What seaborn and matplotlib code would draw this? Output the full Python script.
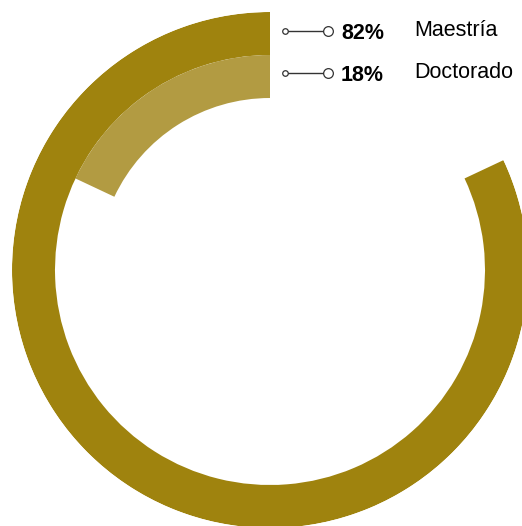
import numpy as np
import pandas as pd
import matplotlib
matplotlib.use("Agg")
import matplotlib.pyplot as plt
import seaborn as sns
from matplotlib.lines import Line2D

# data
niveles = ['Maestría', 'Doctorado']
porcentajes = [82, 18]
colores = ['#9F830E', '#B29B42']

sns.set_theme(style="white")
plt.rcParams['font.family'] = ['Liberation Sans', 'DejaVu Sans']

df = pd.DataFrame({'nivel': niveles, 'pct': porcentajes, 'color': colores})

W, H = 522, 526
fig = plt.figure(figsize=(W / 100, H / 100), dpi=100)
fig.patch.set_facecolor('white')

# ring geometry in pixels
cx, cy, R = 270, 270, 258
ax = fig.add_axes([(cx - R) / W, (H - cy - R) / H, 2 * R / W, 2 * R / H], projection='polar')
ax.set_theta_zero_location('N')
ax.set_theta_direction(1)
ax.set_ylim(0, R)

grosor = 43
for i, row in df.iterrows():
    r_out = R - i * grosor
    ax.barh(r_out - grosor / 2, np.deg2rad(row.pct * 3.6), left=0, height=grosor,
            color=row.color, edgecolor='none')

ax.set_axis_off()

# legend at top right
for i, row in df.iterrows():
    y = 1 - (31 + i * 42) / H
    fig.add_artist(Line2D([285 / W, 328 / W], [y, y], color='#333333', lw=1.0,
                          transform=fig.transFigure))
    fig.add_artist(Line2D([285 / W], [y], marker='o', ms=4, mfc='white', mec='#333333',
                          mew=0.9, transform=fig.transFigure))
    fig.add_artist(Line2D([328 / W], [y], marker='o', ms=7, mfc='white', mec='#333333',
                          mew=0.9, transform=fig.transFigure))
    fig.text(341 / W, y - 8 / H, f"{row.pct}%", fontsize=15.5, fontweight='bold',
             color='black', va='baseline', ha='left')
    fig.text(414 / W, y - 5.5 / H, row.nivel, fontsize=15.5, color='black',
             va='baseline', ha='left')

fig.savefig('out.png', dpi=100, facecolor='white')
